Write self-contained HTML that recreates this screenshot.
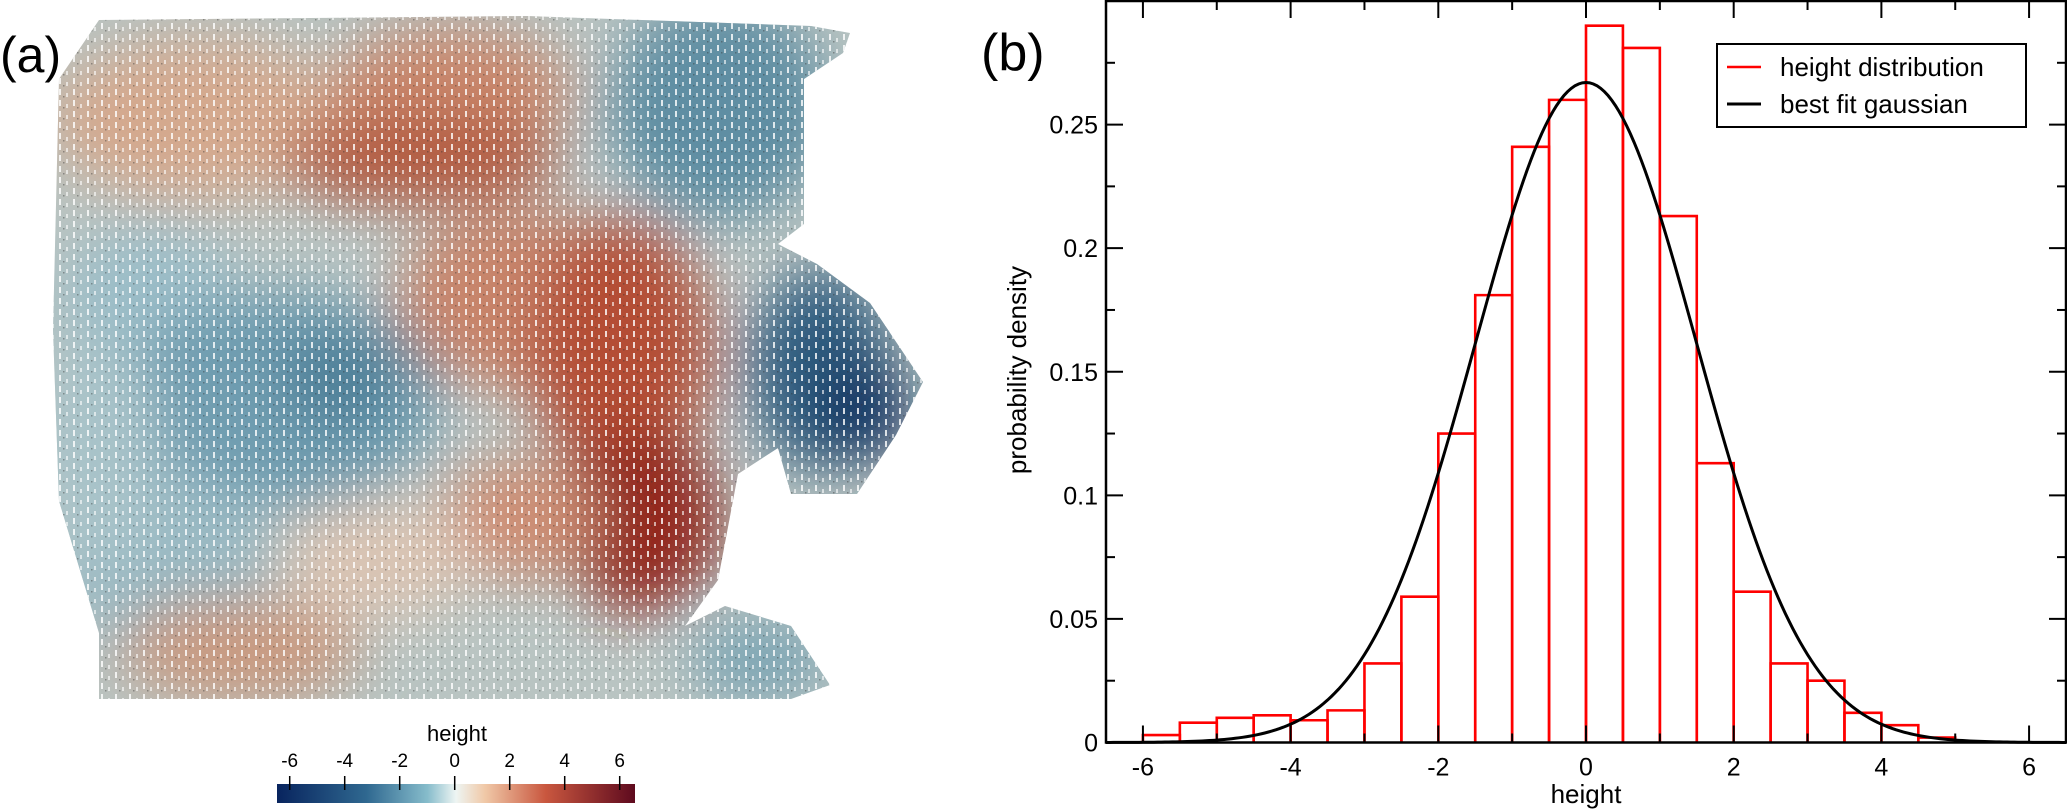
<!DOCTYPE html>
<html><head><meta charset="utf-8"><style>
html,body{margin:0;padding:0;background:#fff;}
body{width:2067px;height:811px;overflow:hidden;font-family:"Liberation Sans",sans-serif;}
svg{position:absolute;left:0;top:0;}
</style></head><body>
<svg id="s" width="2067" height="811" viewBox="0 0 2067 811" xmlns="http://www.w3.org/2000/svg">
<defs>
<clipPath id="mapclip"><polygon points="59,79 99,20 527,16 811,26 850,33 843,53 804,79 804,224 778,244 817,264 870,303 923,382 896,435 857,494 791,494 778,448 738,474 718,580 685,626 725,606 791,626 830,685 791,699 99,699 99,633 59,501 53,330"/></clipPath>
<filter id="blur" x="-50%" y="-50%" width="200%" height="200%"><feGaussianBlur stdDeviation="28"/></filter>
<pattern id="speck" width="14" height="11" patternUnits="userSpaceOnUse"><rect x="3" y="1" width="2" height="6" fill="#fff" opacity="0.8"/><rect x="10" y="5" width="2" height="4" fill="#fff" opacity="0.6"/><rect x="7" y="8" width="1.5" height="1.5" fill="#333" opacity="0.4"/></pattern>
<linearGradient id="cbar" x1="0" x2="1" y1="0" y2="0">
<stop offset="0" stop-color="#08245e"/><stop offset="0.25" stop-color="#2f6890"/><stop offset="0.42" stop-color="#86bccb"/><stop offset="0.5" stop-color="#eef5f3"/><stop offset="0.58" stop-color="#f0c9a8"/><stop offset="0.75" stop-color="#c9573f"/><stop offset="1" stop-color="#5e0a1e"/></linearGradient>
</defs>
<text x="0" y="72" font-size="50" fill="#000">(a)</text>
<g clip-path="url(#mapclip)">
<rect x="40" y="0" width="900" height="720" fill="#b9c4c2"/>
<g filter="url(#blur)">
<ellipse cx="200" cy="120" rx="150" ry="80" fill="#d4a98e"/>
<ellipse cx="450" cy="90" rx="120" ry="60" fill="#c9866a"/>
<ellipse cx="420" cy="160" rx="140" ry="45" fill="#b25a40"/>
<ellipse cx="720" cy="110" rx="110" ry="110" fill="#5f8ea3"/>
<ellipse cx="150" cy="300" rx="90" ry="70" fill="#9bbdc8"/>
<ellipse cx="280" cy="400" rx="160" ry="110" fill="#6f9db0"/>
<ellipse cx="340" cy="380" rx="60" ry="50" fill="#4e7f98"/>
<ellipse cx="520" cy="300" rx="120" ry="90" fill="#c7846a"/>
<ellipse cx="620" cy="350" rx="90" ry="130" fill="#b44d36"/>
<ellipse cx="640" cy="520" rx="80" ry="90" fill="#93281f"/>
<ellipse cx="520" cy="520" rx="80" ry="60" fill="#cc8d73"/>
<ellipse cx="380" cy="560" rx="100" ry="60" fill="#d9c4b4"/>
<ellipse cx="160" cy="560" rx="110" ry="90" fill="#9ab9c3"/>
<ellipse cx="240" cy="650" rx="120" ry="50" fill="#c99a80"/>
<ellipse cx="760" cy="660" rx="70" ry="40" fill="#7aa4b4"/>
<ellipse cx="820" cy="370" rx="70" ry="100" fill="#2d5c7f"/>
<ellipse cx="865" cy="410" rx="45" ry="50" fill="#0f2f5f"/>
<ellipse cx="100" cy="450" rx="60" ry="120" fill="#a8c3c9"/>
</g>
<rect x="40" y="0" width="900" height="720" fill="url(#speck)"/>
</g>
<g>
<text x="457" y="741" font-size="22" text-anchor="middle">height</text>
<rect x="277" y="784" width="358" height="19" fill="url(#cbar)"/>
<g id="cbticks"></g>
</g>
<text x="981" y="70" font-size="52" fill="#000">(b)</text>
<g id="chart"></g>
</svg>
<script>
const binStarts=[-6,-5.5,-5,-4.5,-4,-3.5,-3,-2.5,-2,-1.5,-1,-0.5,0,0.5,1,1.5,2,2.5,3,3.5,4,4.5];
const binDensity=[0.003,0.008,0.010,0.011,0.009,0.013,0.032,0.059,0.125,0.181,0.241,0.260,0.290,0.281,0.213,0.113,0.061,0.032,0.025,0.012,0.007,0.002];
const binWidth=0.5;
const fitMean=0;
const fitSigma=1.494;
const xTicks=[-6,-4,-2,0,2,4,6];
const yTicks=[0,0.05,0.1,0.15,0.2,0.25];
const yTickLabels=["0","0.05","0.1","0.15","0.2","0.25"];
const cbTicks=[-6,-4,-2,0,2,4,6];

const NS="http://www.w3.org/2000/svg";
const L=1106,R=2066,T=1,B=742.5,XMIN=-6.5,XMAX=6.5,YMIN=0,YMAX=0.3;
const sx=v=>L+(v-XMIN)/(XMAX-XMIN)*(R-L);
const sy=v=>B-(v-YMIN)/(YMAX-YMIN)*(B-T);
const g=document.getElementById('chart');
function mk(tag,attrs,parent){const e=document.createElementNS(NS,tag);for(const k in attrs)e.setAttribute(k,attrs[k]);(parent||g).appendChild(e);return e;}

// histogram bars
binStarts.forEach((b,i)=>{
  const x0=sx(b),x1=sx(b+binWidth),y=sy(binDensity[i]);
  const p=mk('path',{d:`M${x0},${sy(0)}V${y}H${x1}V${sy(0)}`,fill:'none',stroke:'#ff0000','stroke-width':2.6});
  
  
});
// gaussian
let d='';
for(let v=XMIN;v<=XMAX+1e-9;v+=0.05){const y=Math.exp(-((v-fitMean)**2)/(2*fitSigma*fitSigma))/(fitSigma*Math.sqrt(2*Math.PI));d+=(d?'L':'M')+sx(v).toFixed(2)+','+sy(y).toFixed(2);}
const gl=mk('path',{d:d,fill:'none',stroke:'#000','stroke-width':3});


// frame
const fr=mk('rect',{x:L,y:T,width:R-L,height:B-T,fill:'none',stroke:'#000','stroke-width':2.5});


// x ticks
for(let v=-6;v<=6;v+=1){const maj=xTicks.includes(v);const len=maj?17:9;
  mk('line',{x1:sx(v),x2:sx(v),y1:B,y2:B-len,stroke:'#000','stroke-width':2});
  mk('line',{x1:sx(v),x2:sx(v),y1:T,y2:T+len,stroke:'#000','stroke-width':2});}
xTicks.forEach(v=>{const t=mk('text',{x:sx(v),y:B+33,'font-size':25,'text-anchor':'middle'});t.textContent=String(v);
  
  });
// y ticks
for(let k=0;k<=11;k++){const v=k*0.025;const maj=k%2===0;const len=maj?17:9;
  mk('line',{x1:L,x2:L+len,y1:sy(v),y2:sy(v),stroke:'#000','stroke-width':2});
  mk('line',{x1:R,x2:R-len,y1:sy(v),y2:sy(v),stroke:'#000','stroke-width':2});}
yTicks.forEach((v,i)=>{const t=mk('text',{x:L-8,y:sy(v)+9,'font-size':25,'text-anchor':'end'});t.textContent=yTickLabels[i];
  
  });
const xt=mk('text',{x:sx(0),y:803,'font-size':26,'text-anchor':'middle'});xt.textContent='height';


const yt=mk('text',{x:0,y:0,'font-size':26,'text-anchor':'middle',transform:'translate(1026,370) rotate(-90)'});yt.textContent='probability density';


// legend
const lg=mk('g',{});


mk('rect',{x:1717,y:44,width:309,height:83,fill:'#fff',stroke:'#000','stroke-width':2},lg);
mk('line',{x1:1727,x2:1761,y1:67,y2:67,stroke:'#ff0000','stroke-width':2.5},lg);
mk('line',{x1:1727,x2:1761,y1:104,y2:104,stroke:'#000','stroke-width':3},lg);
const l1=mk('text',{x:1780,y:76,'font-size':26},lg);l1.textContent='height distribution';


const l2=mk('text',{x:1780,y:113,'font-size':26},lg);l2.textContent='best fit gaussian';


// colorbar ticks
const cb=document.getElementById('cbticks');
const cx=v=>454.7+v*27.5;
cbTicks.forEach(v=>{mk('line',{x1:cx(v),x2:cx(v),y1:776,y2:790,stroke:'#000','stroke-width':1.5},cb);
  const t=mk('text',{x:cx(v),y:767,'font-size':19,'text-anchor':'middle'},cb);t.textContent=String(v);
  
  });
</script>
</body></html>
